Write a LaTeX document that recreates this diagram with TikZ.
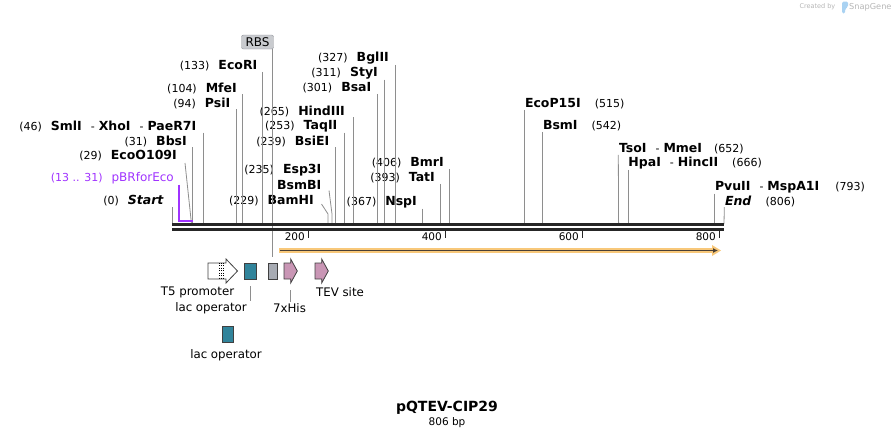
\documentclass[tikz,border=0pt]{standalone}
\usepackage{fontspec}
\setmainfont{DejaVu Sans}
\usepackage{xcolor}
\usetikzlibrary{arrows.meta, positioning}

\definecolor{backbone}{HTML}{262626}
\definecolor{cutgrey}{HTML}{8E8E8E}
\definecolor{primer}{HTML}{A033FF}
\definecolor{lacteal}{HTML}{31849B}
\definecolor{rbsgrey}{HTML}{A7ABB3}
\definecolor{rbsfill}{HTML}{C9CBCF}
\definecolor{tevpink}{HTML}{C996B5}
\definecolor{orfband}{HTML}{F8C87A}
\definecolor{orfcore}{HTML}{4A4035}
\definecolor{markgrey}{HTML}{B5B5B5}
\definecolor{logoblue}{HTML}{A9D2F2}

\newcommand{\sitepos}[1]{{\fontsize{11}{13}\selectfont(#1)}}
\newcommand{\sitesep}{\hspace{9pt}{\fontsize{11}{13}\selectfont-}\hspace{4pt}}

\tikzset{
  site/.style={font=\fontsize{12.5}{14}\selectfont, inner sep=0.5pt},
  cut/.style={cutgrey, line width=0.8pt},
  feat/.style={draw=black!75, line width=0.8pt},
  featbox/.style={feat, minimum height=16pt, inner sep=0pt},
  flabel/.style={font=\fontsize{11.8}{14}\selectfont, inner sep=1pt},
}

\begin{document}
\begin{tikzpicture}[x=1pt, y=-1pt]
    \useasboundingbox (0,0) rectangle (896,437);

    % Watermark
    \node[font=\fontsize{6.5}{8}\selectfont, text=markgrey, anchor=east, inner sep=0pt] (madeby) at (835.5,7) {Created by};
    \fill[logoblue, rounded corners=1.5pt] (842,13.5) -- (842,1.5) -- (848,1.5) -- (848,7) -- (845,9) -- (845,13.5) -- cycle;
    \node[font=\fontsize{8.2}{10}\selectfont, text=markgrey, anchor=west, inner sep=0pt] (snapgene) at (849,7) {SnapGene};

    % Sites on the sequence
    \coordinate (c0) at (172,224);
    \coordinate (c29) at (191.5,224);
    \coordinate (c31) at (192.5,224);
    \coordinate (c46) at (203,224);
    \coordinate (c94) at (236,224);
    \coordinate (c104) at (242.5,224);
    \coordinate (c133) at (262,224);
    \coordinate (c229) at (328,224);
    \coordinate (c235) at (332,224);
    \coordinate (c239) at (335,224);
    \coordinate (c253) at (344,224);
    \coordinate (c265) at (353,224);
    \coordinate (c301) at (377,224);
    \coordinate (c311) at (384,224);
    \coordinate (c327) at (395,224);
    \coordinate (c367) at (422,224);
    \coordinate (c393) at (440,224);
    \coordinate (c406) at (449,224);
    \coordinate (c515) at (524.3,224);
    \coordinate (c542) at (542.3,224);
    \coordinate (c652) at (618.6,224);
    \coordinate (c666) at (628,224);
    \coordinate (c793) at (714.5,224);
    \coordinate (c806) at (724,224);

    % Enzymes left of their sites
    \node[site, anchor=east] (start) at (164.5,201) {\sitepos{0}\hspace{9pt}\textbf{\textit{Start}}};
    \node[site, anchor=east, text=primer] (pbr) at (174.5,178) {\fontsize{11}{13}\selectfont(13 .. 31)\hspace{9pt}\fontsize{12}{14}\selectfont pBRforEco};
    \node[site, anchor=east] (ecoo) at (177.5,156) {\sitepos{29}\hspace{9pt}\textbf{EcoO109I}};
    \node[site, anchor=east] (bbsi) at (187.5,141) {\sitepos{31}\hspace{9pt}\textbf{BbsI}};
    \node[site, anchor=east] (smli) at (197,126.5) {\sitepos{46}\hspace{9pt}\textbf{SmlI}\sitesep\textbf{XhoI}\sitesep\textbf{PaeR7I}};
    \node[site, anchor=east] (psii) at (231,103) {\sitepos{94}\hspace{9pt}\textbf{PsiI}};
    \node[site, anchor=east] (mfei) at (237.5,88) {\sitepos{104}\hspace{9pt}\textbf{MfeI}};
    \node[site, anchor=east] (ecori) at (258,66) {\sitepos{133}\hspace{9pt}\textbf{EcoRI}};
    \node[site, anchor=east] (bamhi) at (314.5,201) {\sitepos{229}\hspace{9pt}\textbf{BamHI}};
    \node[site, anchor=east] (esp) at (322,170.5) {\sitepos{235}\hspace{9pt}\textbf{Esp3I}};
    \node[site, anchor=east] (bsmbi) at (322,185.5) {\textbf{BsmBI}};
    \node[site, anchor=east] (bsiei) at (330,141) {\sitepos{239}\hspace{9pt}\textbf{BsiEI}};
    \node[site, anchor=east] (taqii) at (338,126) {\sitepos{253}\hspace{9pt}\textbf{TaqII}};
    \node[site, anchor=east] (hind) at (345.5,111) {\sitepos{265}\hspace{9pt}\textbf{HindIII}};
    \node[site, anchor=east] (bsai) at (372,88) {\sitepos{301}\hspace{9pt}\textbf{BsaI}};
    \node[site, anchor=east] (styi) at (378.5,73) {\sitepos{311}\hspace{9pt}\textbf{StyI}};
    \node[site, anchor=east] (bglii) at (389.5,58) {\sitepos{327}\hspace{9pt}\textbf{BglII}};
    \node[site, anchor=east] (nspi) at (417.5,202) {\sitepos{367}\hspace{9pt}\textbf{NspI}};
    \node[site, anchor=east] (tati) at (435.5,178) {\sitepos{393}\hspace{9pt}\textbf{TatI}};
    \node[site, anchor=east] (bmri) at (444.5,163) {\sitepos{406}\hspace{9pt}\textbf{BmrI}};

    % Enzymes right of their sites
    \node[site, anchor=west] (ecop) at (524.3,104) {\textbf{EcoP15I}\hspace{14pt}\sitepos{515}};
    \node[site, anchor=west] (bsmi) at (542.3,126) {\textbf{BsmI}\hspace{14pt}\sitepos{542}};
    \node[site, anchor=west] (tsoi) at (618.3,149) {\textbf{TsoI}\sitesep\textbf{MmeI}\hspace{12pt}\sitepos{652}};
    \node[site, anchor=west] (hpai) at (627.7,163) {\textbf{HpaI}\sitesep\textbf{HincII}\hspace{14pt}\sitepos{666}};
    \node[site, anchor=west] (pvuii) at (714.3,187) {\textbf{PvuII}\sitesep\textbf{MspA1I}\hspace{16pt}\sitepos{793}};
    \node[site, anchor=west] (endsite) at (724.3,201) {\textbf{\textit{End}}\hspace{14pt}\sitepos{806}};

    % Cut lines
    \draw[cut] (start.south -| c0) -- (c0);
    \draw[cut] ([xshift=7.5pt,yshift=-7pt]ecoo.east) -- (c29);
    \draw[cut] (bbsi.south -| c31) -- (c31);
    \draw[cut] (smli.south -| c46) -- (c46);
    \draw[cut] (psii.south -| c94) -- (c94);
    \draw[cut] (mfei.south -| c104) -- (c104);
    \draw[cut] (ecori.south -| c133) -- (c133);
    \draw[cut] ([xshift=7pt,yshift=-3pt]bamhi.east) -- ([yshift=10pt]c229) -- (c229);
    \draw[cut] ([xshift=7pt,yshift=-5pt]bsmbi.east) -- ([yshift=10pt]c235) -- (c235);
    \draw[cut] (bsiei.south -| c239) -- (c239);
    \draw[cut] (taqii.south -| c253) -- (c253);
    \draw[cut] (hind.south -| c265) -- (c265);
    \draw[cut] (bsai.south -| c301) -- (c301);
    \draw[cut] (styi.south -| c311) -- (c311);
    \draw[cut] (bglii.south -| c327) -- (c327);
    \draw[cut] (nspi.south -| c367) -- (c367);
    \draw[cut] (tati.south -| c393) -- (c393);
    \draw[cut] (bmri.south -| c406) -- (c406);
    \draw[cut] (ecop.south west) -- (c515);
    \draw[cut] (bsmi.south west) -- (c542);
    \draw[cut] (tsoi.south west) -- (c652);
    \draw[cut] (hpai.south -| c666) -- (c666);
    \draw[cut] (pvuii.south -| c793) -- (c793);
    \draw[cut] (endsite.south west) -- (c806);

    % Primer
    \coordinate (p13) at (179,221);
    \coordinate (p31) at (192.5,221);
    \draw[primer, line width=1.5pt] (pbr.south -| p13) -- (p13) -- (p31);

    % RBS
    \node[draw=rbsgrey!85!black, fill=rbsfill, rounded corners=2pt, font=\fontsize{12}{14}\selectfont,
          inner xsep=4pt, inner ysep=2.6pt, text height=8.8pt, text depth=0pt] (rbs) at (257.5,42) {RBS};
    \node[featbox, fill=rbsgrey, minimum width=9pt] (rbsbox) at (272.5,271) {};
    \draw[cut] (rbs.south -| rbsbox) -- ([yshift=6pt]rbsbox.north);

    % Sequence
    \draw[backbone, line width=2.6pt] (172,224.6) -- (724,224.6);
    \draw[backbone, line width=2.6pt] (172,229.4) -- (724,229.4);
    \foreach \x/\t in {308.5/200, 445.5/400, 582.5/600, 719.5/800} {
        \draw[backbone, line width=1.6pt] (\x,230) -- (\x,237.5);
        \node[font=\fontsize{10.5}{12}\selectfont, anchor=east, inner sep=0pt] (t\t) at (\x-3.5,237) {\t};
    }

    % ORF
    \draw[orfband, line width=5.6pt] (279,250.5) -- (714,250.5);
    \fill[orfband] (712,245) -- (721,250.5) -- (712,256) -- cycle;
    \draw[orfcore, line width=1.5pt, -{Latex[length=5pt, width=5pt]}] (280,250.5) -- (718,250.5);

    % T5 promoter
    \draw[feat, fill=white] (208,263) -- (226,263) -- (226,259) -- (237.5,271) -- (226,283) -- (226,279) -- (208,279) -- cycle;
    \draw[dotted, line width=0.45pt] (219,263) -- (219,279);
    \draw[dotted, line width=0.45pt] (221,263) -- (221,279);
    \draw[dotted, line width=0.45pt] (223,263) -- (223,279);

    % lac operators
    \node[featbox, fill=lacteal, minimum width=12pt] (lac1) at (250,271) {};
    \node[featbox, fill=lacteal, minimum width=11.5pt] (lac2) at (227.7,334) {};

    % 7xHis and TEV site
    \draw[feat, fill=tevpink] (284,263) -- (290.7,263) -- (290.7,259) -- (297.3,271) -- (290.7,283) -- (290.7,279) -- (284,279) -- cycle;
    \coordinate (his) at (290.7,283);
    \draw[feat, fill=tevpink] (315,263) -- (321.7,263) -- (321.7,259) -- (328.3,271) -- (321.7,283) -- (321.7,279) -- (315,279) -- cycle;

    % Feature labels
    \node[flabel] (t5lab) at (197.5,292.5) {T5 promoter};
    \node[flabel] (lac1lab) at (211,308) {lac operator};
    \node[flabel] (hislab) at (289.5,308) {7xHis};
    \node[flabel] (tevlab) at (340,292.5) {TEV site};
    \node[flabel] (lac2lab) at (226,355) {lac operator};
    \draw[cut] ([yshift=-7pt]lac1.south) -- (lac1.south |- lac1lab.north);
    \draw[cut] ([yshift=-7pt]his) -- (his |- hislab.north);

    % Title
    \node[font=\bfseries\fontsize{14}{16}\selectfont, inner sep=0pt] (title) at (447,408) {pQTEV-CIP29};
    \node[font=\fontsize{10.5}{12}\selectfont, inner sep=0pt, below=2pt of title] (size) {806 bp};
\end{tikzpicture}
\end{document}
